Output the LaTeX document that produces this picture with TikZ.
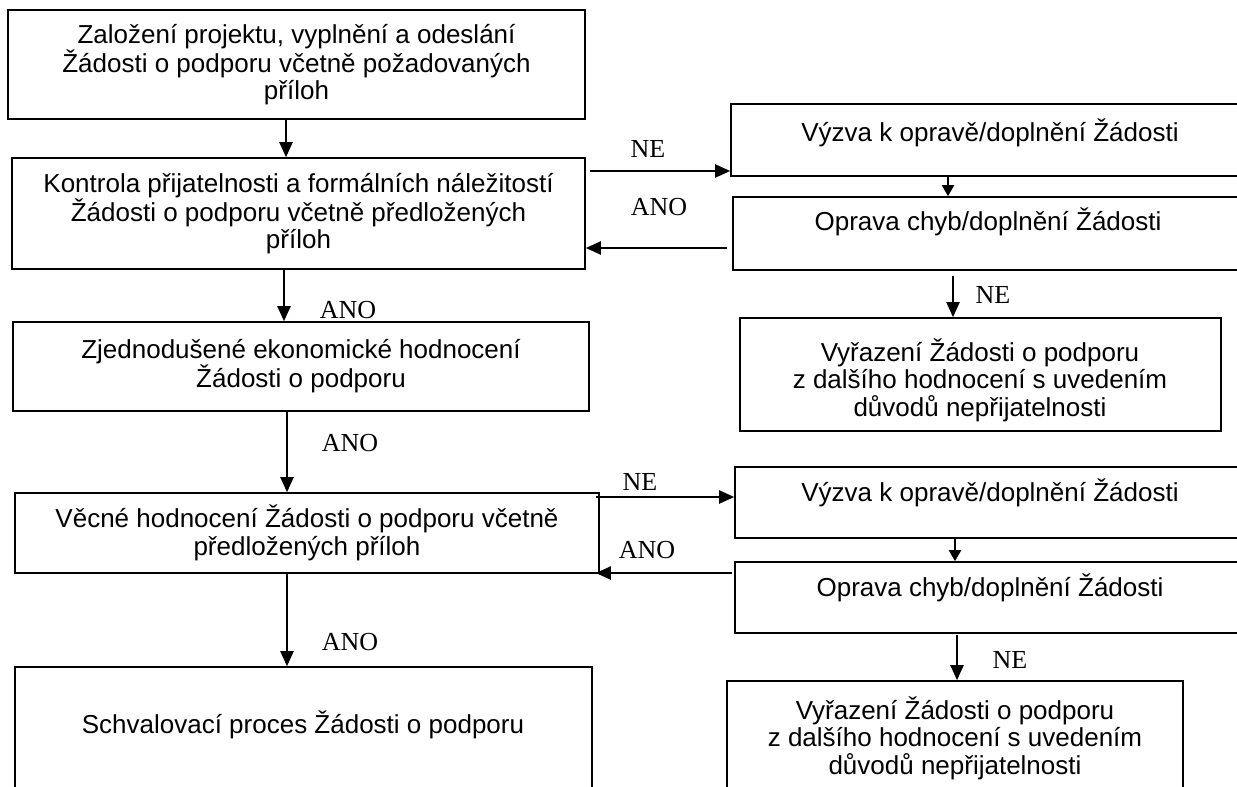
\documentclass[tikz,border=0pt]{standalone}
\usepackage{fontspec}
\setmainfont{Liberation Sans}
\newfontfamily\labfont{Liberation Serif}
\usetikzlibrary{arrows.meta}
\begin{document}
\begin{tikzpicture}[x=1pt,y=-1pt,
  box/.style={draw, line width=1.6pt, inner sep=0pt, align=center, font=\fontsize{26}{27.5}\selectfont},
  txt/.style={inner sep=0pt, align=center, font=\fontsize{26}{27.5}\selectfont},
  lbl/.style={inner sep=0pt, font=\labfont\fontsize{26}{27}\selectfont},
  arr/.style={line width=2pt, -{Triangle[length=15pt,width=13pt]}},
  sarr/.style={line width=2pt, -{Triangle[length=11pt,width=12pt]}}]
\useasboundingbox (0,0) rectangle (1237,787);
\clip (0,0) rectangle (1237,787);
% left column
\node[box, minimum width=577pt, minimum height=109pt] (b1) at (296.5,64.5)
  {Založení projektu, vyplnění a odeslání\\Žádosti o podporu včetně požadovaných\\příloh};
\node[box, minimum width=573pt, minimum height=111pt] (b2) at (298.5,213.5)
  {Kontrola přijatelnosti a formálních náležitostí\\Žádosti o podporu včetně předložených\\příloh};
\node[box, minimum width=576pt, minimum height=89pt] (b3) at (301,366.5)
  {Zjednodušené ekonomické hodnocení\\Žádosti o podporu};
\node[box, minimum width=584pt, minimum height=80pt] (b4) at (307,533)
  {Věcné hodnocení Žádosti o podporu včetně\\předložených příloh};
\node[box, minimum width=577pt, minimum height=133pt] (b5) at (303.5,733.5) {};
\node[txt] (t5) at (303,725) {Schvalovací proces Žádosti o podporu};
% right column
\node[box, minimum width=514pt, minimum height=72pt] (r1) at (988,140) {};
\node[txt] (tr1) at (990,133) {Výzva k opravě/doplnění Žádosti};
\node[box, minimum width=512pt, minimum height=73pt] (r2) at (989,233.5) {};
\node[txt] (tr2) at (988,222) {Oprava chyb/doplnění Žádosti};
\node[box, minimum width=481pt, minimum height=113pt] (r3) at (980.5,374.5) {};
\node[txt] (tr3) at (980,380) {Vyřazení Žádosti o podporu\\z dalšího hodnocení s uvedením\\důvodů nepřijatelnosti};
\node[box, minimum width=510pt, minimum height=71pt] (r4) at (990,502.5) {};
\node[txt] (tr4) at (990,493) {Výzva k opravě/doplnění Žádosti};
\node[box, minimum width=510pt, minimum height=71pt] (r5) at (990,597.5) {};
\node[txt] (tr5) at (990,588) {Oprava chyb/doplnění Žádosti};
\node[box, minimum width=456pt, minimum height=119pt] (r6) at (955,740.5) {};
\node[txt] (tr6) at (955,738) {Vyřazení Žádosti o podporu\\z dalšího hodnocení s uvedením\\důvodů nepřijatelnosti};
% connectors, left column
\draw[arr] ([xshift=-10.5pt]b1.south) -- ([xshift=-12.5pt]b2.north);
\draw[arr] ([xshift=-14.5pt]b2.south) -- ([xshift=-17pt]b3.north);
\draw[arr] ([xshift=-14pt]b3.south) -- ([xshift=-20pt]b4.north);
\draw[arr] ([xshift=-20pt]b4.south) -- ([xshift=-16.5pt]b5.north);
% first loop
\draw[arr] ([xshift=4pt,yshift=42.5pt]b2.east) -- ([yshift=-31pt]r1.west);
\draw[sarr] ([xshift=-40pt]r1.south) -- ([xshift=-41pt]r2.north);
\draw[arr] ([xshift=-5pt,yshift=-14.5pt]r2.west) -- ([yshift=-34.5pt]b2.east);
\draw[arr] ([xshift=-36pt,yshift=-5pt]r2.south) -- ([xshift=-27.5pt]r3.north);
% second loop
\draw[arr] ([xshift=-4pt,yshift=36pt]b4.east) -- ([yshift=5.5pt]r4.west);
\draw[sarr] ([xshift=-35pt]r4.south) -- ([xshift=-35pt]r5.north);
\draw[arr] ([xshift=-2pt,yshift=24.5pt]r5.west) -- ([xshift=-4pt,yshift=-40pt]b4.east);
\draw[arr] ([xshift=-33pt,yshift=-1pt]r5.south) -- ([xshift=2pt]r6.north);
% labels
\node[lbl] (l1) at (648,149) {NE};
\node[lbl] (l2) at (659,207) {ANO};
\node[lbl] (l3) at (993,295) {NE};
\node[lbl] (l4) at (348,310) {ANO};
\node[lbl] (l5) at (350,443) {ANO};
\node[lbl] (l6) at (640,482) {NE};
\node[lbl] (l7) at (647,550) {ANO};
\node[lbl] (l8) at (1010,660) {NE};
\node[lbl] (l9) at (350,642) {ANO};
\end{tikzpicture}
\end{document}
